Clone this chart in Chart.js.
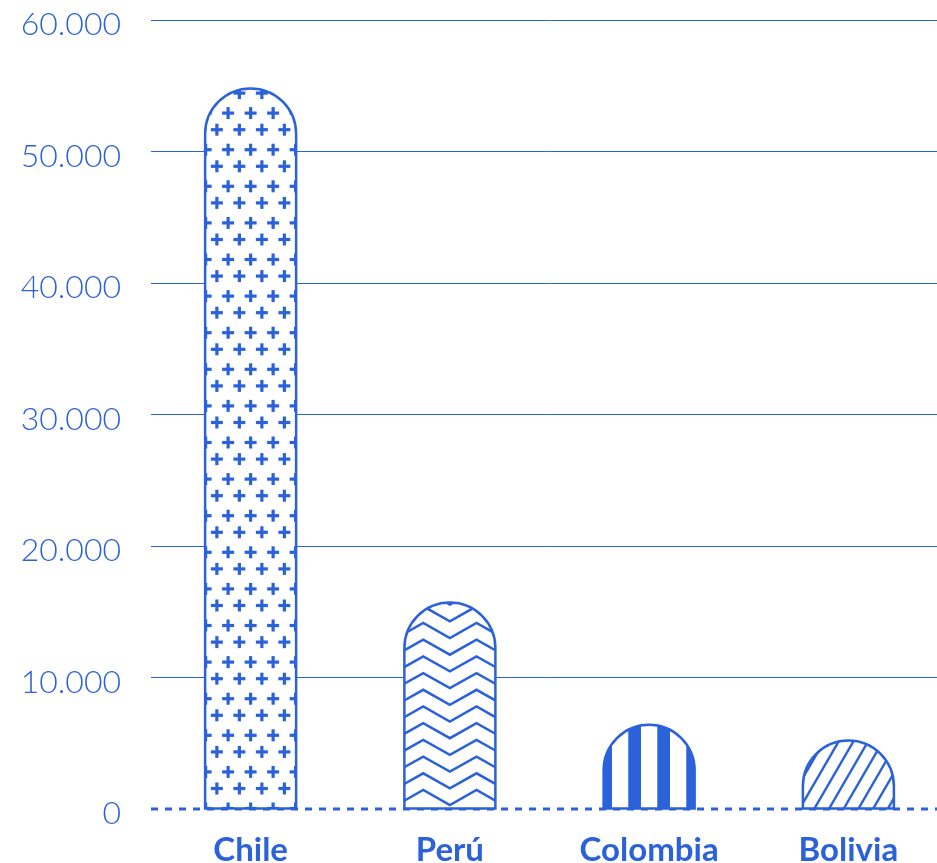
<!DOCTYPE html>
<html>
<head>
<meta charset="UTF-8">
<title>Chile, Perú, Colombia, Bolivia</title>
<script src="https://cdn.jsdelivr.net/npm/chart.js"></script>
<style>
  html, body { margin: 0; padding: 0; background: #fff; overflow: hidden; }
  #wrap { width: 948px; height: 863px; }
</style>
</head>
<body>
<div id="wrap"><canvas id="chart" width="948" height="863"></canvas></div>
<script>
const countries = ['Chile', 'Perú', 'Colombia', 'Bolivia'];
const values = [54800, 15700, 6400, 5200];
const yTicks = [0, 10000, 20000, 30000, 40000, 50000, 60000];

const BLUE = '#2b62d9';
const fills = ['plus', 'chevron', 'stripes', 'hatch'];

function fmt(v) { return String(v).replace(/\B(?=(\d{3})+(?!\d))/g, '.'); }

function plus(ctx, x, y) {
  ctx.fillRect(x - 6, y - 1.6, 12, 3.2);
  ctx.fillRect(x - 1.6, y - 6, 3.2, 12);
}

// pattern painters, all relative to the bar the library placed
const painters = {
  plus(ctx, cx, top, base) {
    ctx.fillStyle = BLUE;
    for (let y = base; y > top - 40; y -= 36.6) {
      for (let k = -3; k <= 3; k++) {
        plus(ctx, cx + k * 22.5, y);
        plus(ctx, cx + 11.25 + k * 22.5, y - 20);
      }
    }
  },
  chevron(ctx, cx, top, base) {
    ctx.strokeStyle = BLUE;
    ctx.lineWidth = 2.5;
    for (let y = base - 3.5; y > top - 20; y -= 16.7) {
      ctx.beginPath();
      for (let j = -2; j <= 2; j++) {
        const x = cx + j * 53.3;
        if (j === -2) ctx.moveTo(x, y); else ctx.lineTo(x, y);
        if (j < 2) ctx.lineTo(x + 26.65, y - 15);
      }
      ctx.stroke();
    }
  },
  stripes(ctx, cx, top, base) {
    ctx.fillStyle = BLUE;
    for (let k = -3; k <= 2; k++) {
      ctx.fillRect(cx + 14.5 + k * 29 - 6.35, top - 5, 12.7, base - top + 10);
    }
  },
  hatch(ctx, cx, top, base) {
    ctx.strokeStyle = BLUE;
    ctx.lineWidth = 2.4;
    const h = base - top + 10;
    for (let k = -8; k <= 4; k++) {
      const x = cx - 4.5 + k * 14.7;
      ctx.beginPath();
      ctx.moveTo(x - 0.58 * 5, base + 5);
      ctx.lineTo(x + 0.58 * h, base - h);
      ctx.stroke();
    }
  }
};

const archBars = {
  id: 'archBars',
  beforeDatasetsDraw(chart) {
    const ctx = chart.ctx;
    const area = chart.chartArea;
    const y = chart.scales.y.getPixelForValue(0);
    ctx.save();
    ctx.strokeStyle = BLUE;
    ctx.lineWidth = 3;
    ctx.setLineDash([7, 7]);
    ctx.beginPath();
    ctx.moveTo(area.left, y);
    ctx.lineTo(area.right, y);
    ctx.stroke();
    ctx.restore();
  },
  beforeDatasetDraw(chart, args) {
    const ctx = chart.ctx;
    args.meta.data.forEach((bar, i) => {
      const p = bar.getProps(['x', 'y', 'base', 'width'], true);
      const r = p.width / 2;
      const l = p.x - r, rt = p.x + r;
      const shape = () => {
        ctx.beginPath();
        ctx.moveTo(l, p.base);
        ctx.lineTo(l, p.y + r);
        ctx.arc(p.x, p.y + r, r, Math.PI, 0);
        ctx.lineTo(rt, p.base);
        ctx.closePath();
      };
      ctx.save();
      shape();
      ctx.fillStyle = '#fff';
      ctx.fill();
      ctx.clip();
      painters[fills[i]](ctx, p.x, p.y, p.base);
      ctx.restore();
      ctx.save();
      shape();
      ctx.strokeStyle = BLUE;
      ctx.lineWidth = 2.5;
      ctx.stroke();
      ctx.restore();
    });
    return false;
  }
};

new Chart(document.getElementById('chart'), {
  type: 'bar',
  data: {
    labels: countries,
    datasets: [{ data: values, backgroundColor: '#fff', borderColor: BLUE, barThickness: 91 }]
  },
  options: {
    responsive: false,
    animation: false,
    devicePixelRatio: 1,
    layout: { padding: { top: 20, right: 0, bottom: 0, left: 0 } },
    plugins: { legend: { display: false }, tooltip: { enabled: false } },
    scales: {
      x: {
        grid: { display: false },
        border: { display: false },
        ticks: {
          color: BLUE,
          font: { family: 'Lato', size: 33, weight: 'bold', lineHeight: 1 },
          padding: 17,
          maxRotation: 0
        },
        afterFit(s) { s.height = 54; }
      },
      y: {
        min: 0,
        max: 60000,
        afterBuildTicks(s) { s.ticks = yTicks.map(v => ({ value: v })); },
        grid: {
          color: c => (c.tick && c.tick.value === 0) ? 'rgba(0,0,0,0)' : BLUE,
          lineWidth: 1,
          drawTicks: false
        },
        border: { display: false },
        ticks: {
          color: BLUE,
          font: { family: 'Lato', size: 32, weight: '300', lineHeight: 1 },
          padding: 30,
          labelOffset: 5,
          callback: v => fmt(v)
        },
        afterFit(s) { s.width = 151; s.paddingTop = 0; s.paddingBottom = 0; }
      }
    }
  },
  plugins: [archBars]
});
</script>
</body>
</html>
